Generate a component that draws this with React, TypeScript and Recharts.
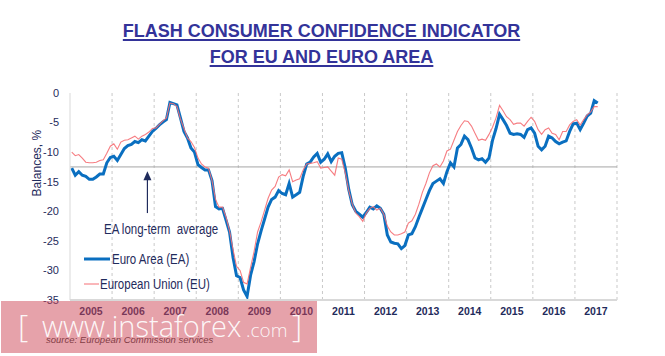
import { Legend, Line, LineChart, ReferenceDot, ReferenceLine, XAxis, YAxis } from 'recharts'

const START_YEAR = 2005
const YEARS = [2005, 2006, 2007, 2008, 2009, 2010, 2011, 2012, 2013, 2014, 2015, 2016, 2017]
const GRID_YEARS = [2006, 2007, 2008, 2009, 2010, 2011, 2012, 2013, 2014, 2015, 2016, 2017, 2018]
const Y_TICKS = [-35, -30, -25, -20, -15, -10, -5, 0]
const LONG_TERM_AVERAGE = -12.5

// monthly balances, Jan 2005 .. Jul 2017
const EA_VALUES = [
  -12.7, -13.9, -13.3, -13.9, -14.1, -14.6, -14.6, -14.2, -13.7, -13.7, -11.8, -10.9,
  -10.7, -11.4, -10.4, -9.4, -8.9, -8.7, -8.2, -8.4, -7.9, -8.1, -7.3, -6.5,
  -6.0, -5.4, -4.9, -4.5, -1.6, -1.8, -2.0, -4.2, -6.5, -7.6, -9.3, -10.0,
  -12.1, -12.6, -13.0, -13.0, -14.8, -19.2, -19.6, -19.5, -21.5, -23.5, -27.8, -30.9,
  -31.2, -33.3, -34.4, -30.8, -28.5, -25.5, -23.3, -21.3, -19.3, -18.0, -17.6, -16.5,
  -17.0, -17.2, -15.3, -17.6, -17.2, -16.8, -14.1, -12.0, -11.7, -10.8, -10.2, -11.7,
  -11.2, -10.3, -11.6, -10.7, -10.2, -10.1, -12.7, -16.3, -18.9, -20.0, -20.5, -21.0,
  -20.2, -19.3, -19.6, -19.1, -19.5, -20.5, -24.0, -25.2, -25.4, -25.5, -26.3, -25.8,
  -24.0, -23.8, -22.6, -21.0, -19.5, -18.0, -16.5, -15.3, -14.9, -14.5, -15.3, -13.3,
  -11.8, -12.5, -9.3, -8.7, -7.3, -7.9, -9.3, -11.0, -11.3, -11.1, -11.7, -11.0,
  -8.0, -6.0, -3.6, -4.5, -5.5, -6.8, -7.0, -6.9, -7.0, -7.5, -6.2, -5.9,
  -6.8, -9.0, -9.6, -9.0, -7.3, -7.6, -8.2, -8.6, -8.3, -8.1, -6.5, -5.2,
  -5.1, -6.2, -5.1, -3.9, -3.4, -1.3, -1.7,
]

const EU_VALUES = [
  -10.0, -10.6, -10.4, -11.0, -11.7, -11.8, -11.8, -11.7, -11.4, -11.3, -10.2, -9.0,
  -8.6, -9.5, -8.3, -8.0, -7.9, -7.6, -7.3, -7.8, -7.3, -7.0, -6.6, -6.0,
  -5.9, -5.3, -4.7, -4.2, -1.7, -1.8, -2.3, -4.4, -6.0, -7.6, -8.2, -9.2,
  -11.0, -12.0, -12.5, -12.7, -14.8, -18.0, -19.3, -19.3, -21.0, -23.3, -26.5, -29.3,
  -30.0, -32.0, -32.3, -29.5, -26.8, -23.5, -21.8, -19.8, -17.8, -16.4, -15.8, -14.2,
  -13.8, -14.0, -13.0, -15.0, -14.7, -14.5, -13.0, -12.0, -11.9, -11.8, -11.6, -12.7,
  -12.6, -12.5, -13.2, -13.9, -11.0, -11.2, -13.5, -16.5, -18.8, -20.3, -20.9, -21.7,
  -20.3, -19.5, -19.2, -19.8, -19.5, -20.5, -22.5, -23.5, -24.0, -24.0, -23.8, -23.5,
  -22.0, -21.6, -20.5, -18.8, -16.8, -15.3, -13.5, -12.3, -12.0, -12.5, -11.5, -9.8,
  -9.5, -8.0, -6.5, -5.5, -4.7, -4.8, -5.6, -6.8, -8.0, -7.8, -8.0, -7.0,
  -5.8, -4.2, -2.1, -3.0, -4.0, -4.5, -5.3, -5.1, -5.1, -5.6, -4.8, -4.1,
  -4.8, -6.2, -7.0, -6.2, -5.9, -6.8, -7.0, -7.9, -6.5, -6.5, -5.4, -4.8,
  -4.5, -5.4, -4.5, -3.7, -3.2, -2.3, -2.3,
]

// arrow pointing at the long-term average line (data units)
const ARROW_X = 2006.84
const ARROW_BOTTOM = -20.3
const ARROW_TIP = -13.4

const data = EA_VALUES.map((ea, i) => ({ t: START_YEAR + (i + 0.5) / 12, ea, eu: EU_VALUES[i] }))

const NAVY = '#1f2b5c'
const EA_COLOR = '#0a6fc0'
const EU_COLOR = '#f56f74'
const FONT = '"Liberation Sans", Arial, sans-serif'

// no narrow font available, so squeeze the html labels a bit
const narrow = { display: 'inline-block', transform: 'scaleX(0.82)', transformOrigin: 'left center' } as const

function LegendBox() {
  const rows = [
    { label: 'Euro Area (EA)', color: EA_COLOR, width: 3 },
    { label: 'European Union (EU)', color: EU_COLOR, width: 1 },
  ]
  return (
    <div style={{ fontFamily: FONT, fontSize: 14, color: NAVY }}>
      {rows.map((r) => (
        <div key={r.label} style={{ display: 'flex', alignItems: 'center', height: 25, whiteSpace: 'nowrap' }}>
          <svg width={27} height={10} style={{ marginRight: 1 }}>
            <line x1={0} y1={5} x2={26} y2={5} stroke={r.color} strokeWidth={r.width} />
          </svg>
          <span style={narrow}>{r.label}</span>
        </div>
      ))}
    </div>
  )
}

export default function App() {
  return (
    <div style={{ position: 'fixed', left: 0, top: 0, width: 665, height: 356, background: '#fff', overflow: 'hidden' }}>
      <div
        style={{
          position: 'absolute', left: 0, top: 19, width: 643, textAlign: 'center',
          fontFamily: FONT, fontWeight: 'bold', fontSize: 18,
          lineHeight: '25.6px', color: '#333399', textDecoration: 'underline', textDecorationThickness: 2,
          textUnderlineOffset: 2,
        }}
      >
        FLASH CONSUMER CONFIDENCE INDICATOR<br />FOR EU AND EURO AREA
      </div>

      <div style={{ position: 'absolute', left: 0, top: 0 }}>
        <LineChart width={665} height={356} data={data} margin={{ top: 93, right: 48, bottom: 26, left: 10 }}>
          <XAxis
            type="number"
            dataKey="t"
            domain={[2005, 2018]}
            ticks={YEARS.map((y) => y + 0.5)}
            tickFormatter={(v) => String(Math.floor(v))}
            axisLine={{ stroke: '#d9d9d9', strokeWidth: 2 }}
            tickLine={false}
            height={30}
            tick={{ fill: NAVY, fontSize: 10.5, fontWeight: 'bold', fontFamily: FONT }}
          />
          <YAxis
            type="number"
            domain={[-35, 0]}
            ticks={Y_TICKS}
            width={60}
            axisLine={{ stroke: '#d9d9d9', strokeWidth: 1 }}
            tickLine={false}
            tickMargin={5}
            tick={{ fill: NAVY, fontSize: 11, fontFamily: FONT }}
            label={{ value: 'Balances, %', angle: -90, position: 'insideLeft', offset: 27, fill: NAVY, fontSize: 12, fontFamily: FONT }}
          />
          {GRID_YEARS.map((y) => (
            <ReferenceLine key={y} x={y} stroke="#c9c9c9" strokeDasharray="3 3" />
          ))}
          <ReferenceLine y={LONG_TERM_AVERAGE} stroke="#a6a6a6" strokeWidth={1} />
          <ReferenceLine segment={[{ x: ARROW_X, y: ARROW_BOTTOM }, { x: ARROW_X, y: ARROW_TIP - 1 }]} stroke={NAVY} strokeWidth={1.2} />
          <ReferenceDot
            x={ARROW_X}
            y={ARROW_TIP}
            r={4}
            shape={(p: any) => <path d={`M${p.cx},${p.cy - 1} l-4,9 l8,0 z`} fill={NAVY} />}
          />
          <Line dataKey="ea" stroke={EA_COLOR} strokeWidth={3} dot={false} isAnimationActive={false} />
          <Line dataKey="eu" stroke={EU_COLOR} strokeWidth={1.1} strokeOpacity={0.9} dot={false} isAnimationActive={false} />
          <Legend
            layout="vertical"
            align="center"
            verticalAlign="middle"
            content={() => <LegendBox />}
            wrapperStyle={{ left: 84, top: 246, width: 150, height: 50 }}
          />
        </LineChart>
      </div>

      <div
        style={{
          position: 'absolute', left: 104, top: 220, fontFamily: FONT, fontSize: 14, color: NAVY,
          whiteSpace: 'pre', lineHeight: '18px',
        }}
      >
        <span style={narrow}>{'EA long-term  average'}</span>
      </div>

      <svg width={665} height={356} style={{ position: 'absolute', left: 0, top: 0, pointerEvents: 'none' }}>
        <text x={46} y={343} fontFamily={FONT} fontStyle="italic" fontSize={9.5} fill="#333">
          source: European Commission services
        </text>
        <rect x={1} y={301} width={316} height={52} fill="rgba(205,70,85,0.5)" />
        <g fill="#fff" fillOpacity={0.92} fontFamily='"Open Sans", "DejaVu Sans", sans-serif' fontWeight={300}>
          <text x={18} y={337} fontSize={32}>[</text>
          <text x={42} y={337} fontSize={29}>www.instaforex</text>
          <text x={246} y={337} fontSize={19}>.com</text>
          <text x={292} y={337} fontSize={32}>]</text>
        </g>
      </svg>
    </div>
  )
}
